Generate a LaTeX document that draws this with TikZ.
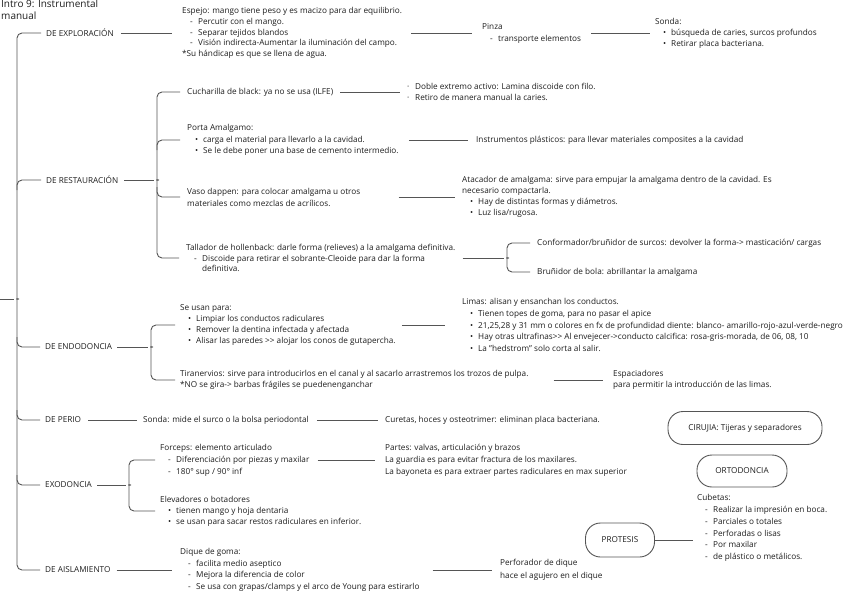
\documentclass[tikz,border=0pt]{standalone}
\usepackage{fontspec}
\setmainfont{Open Sans}
\usetikzlibrary{calc}
\definecolor{tx}{HTML}{1E1E1E}
\definecolor{lc}{HTML}{555555}
\newlength\fs
\setlength\fs{8.2pt}
\newcommand\dl{\hspace*{8pt}\makebox[8pt][l]{-}}
\newcommand\bl{\hspace*{8pt}\makebox[8pt][l]{\textbullet}}
\newcommand\dt{\makebox[8pt][l]{·}}
% brace: #1 vertical x coord, #2 top node, #3 bottom node, #4 point coord, #5 gap, #6 half nub
\newcommand\curly[6]{%
  \draw[conn, rounded corners=5pt] ([xshift=-#5]#2.west) -- (#2.west -| #1) -- ($(#1 |- #4)+(0,-#6)$)
    .. controls ($(#1 |- #4)+(0,-#6/4)$) and ($(#4)+(#6/2,0)$) .. (#4)
    .. controls ($(#4)+(#6/2,0)$) and ($(#1 |- #4)+(0,#6/4)$) .. ($(#1 |- #4)+(0,#6)$)
    -- (#3.west -| #1) -- ([xshift=-#5]#3.west);}
\newcommand\brup[3]{\draw[conn, rounded corners=5pt] ($(#2.west -| #1)+(0,10)$) -- (#2.west -| #1) -- ([xshift=-#3]#2.west);}
\newcommand\brdn[3]{\draw[conn, rounded corners=5pt] ($(#2.west -| #1)+(0,-10)$) -- (#2.west -| #1) -- ([xshift=-#3]#2.west);}
\begin{document}
\begin{tikzpicture}[x=1pt,y=-1pt,
  txt/.style={anchor=west, inner sep=0pt, align=left, text=tx, font=\fontsize{\fs}{#1}\selectfont},
  txt/.default=11.3pt,
  lbl/.style={anchor=west, inner sep=0pt, text=tx, font=\fontsize{\fs}{10pt}\selectfont},
  conn/.style={draw=lc, line width=0.9pt},
  pill/.style={draw=lc, line width=0.9pt, rounded corners=15pt, inner sep=0pt, text=tx, font=\fontsize{\fs}{10pt}\selectfont}]
\fill[white] (0,0) rectangle (848,599);
\useasboundingbox (0,0) rectangle (848,599);

\node[txt=11.5pt, anchor=north west, font=\fontsize{10pt}{11.5pt}\selectfont] (title) at (1,0) {Intro 9: Instrumental\\manual};

\node[lbl] (explo) at (46,33) {DE EXPLORACIÓN};
\node[txt=10.8pt] (espejo) at (182,33) {Espejo: mango tiene peso y es macizo para dar equilibrio.\\\dl Percutir con el mango.\\\dl Separar tejidos blandos\\\dl Visión indirecta-Aumentar la iluminación del campo.\\{}*Su hándicap es que se llena de agua.};
\node[txt=12pt] (pinza) at (482,33) {Pinza\\\dl transporte elementos};
\node[txt=11pt] (sonda) at (655,33) {Sonda:\\\bl búsqueda de caries, surcos profundos\\\bl Retirar placa bacteriana.};

\node[lbl] (resta) at (46,180) {DE RESTAURACIÓN};
\node[txt] (cuch) at (187,92) {Cucharilla de black: ya no se usa (ILFE)};
\node[txt=11.5pt] (doble) at (407,92) {\dt Doble extremo activo: Lamina discoide con filo.\\\dt Retiro de manera manual la caries.};
\node[txt=11.5pt] (porta) at (187,140) {Porta Amalgamo:\\\bl carga el material para llevarlo a la cavidad.\\\bl Se le debe poner una base de cemento intermedio.};
\node[txt] (instr) at (476,140) {Instrumentos plásticos: para llevar materiales composites a la cavidad};
\node[txt=12pt] (vaso) at (187,197) {Vaso dappen: para colocar amalgama u otros\\materiales como mezclas de acrílicos.};
\node[txt=11pt] (atac) at (462,197) {Atacador de amalgama: sirve para empujar la amalgama dentro de la cavidad. Es\\necesario compactarla.\\\bl Hay de distintas formas y diámetros.\\\bl Luz lisa/rugosa.};
\node[txt=10.5pt] (tall) at (186,258) {Tallador de hollenback: darle forma (relieves) a la amalgama definitiva.\\\dl Discoide para retirar el sobrante-Cleoide para dar la forma\\\hspace*{16pt}definitiva.};
\node[txt] (conf) at (537,243) {Conformador/bruñidor de surcos: devolver la forma-> masticación/ cargas};
\node[txt] (brun) at (537,272) {Bruñidor de bola: abrillantar la amalgama};

\node[lbl] (endo) at (45,347) {DE ENDODONCIA};
\node[txt=10.8pt] (seusan) at (180,325) {Se usan para:\\\bl Limpiar los conductos radiculares\\\bl Remover la dentina infectada y afectada\\\bl Alisar las paredes >{}> alojar los conos de gutapercha.};
\node[txt=11.75pt] (limas) at (462,325) {Limas: alisan y ensanchan los conductos.\\\bl Tienen topes de goma, para no pasar el apice\\\bl 21,25,28 y 31 mm o colores en fx de profundidad diente: blanco- amarillo-rojo-azul-verde-negro\\\bl Hay otras ultrafinas>{}> Al envejecer->conducto calcifica: rosa-gris-morada, de 06, 08, 10\\\bl La "hedstrom" solo corta al salir.};
\node[txt=11pt] (tira) at (180,380) {Tiranervios: sirve para introducirlos en el canal y al sacarlo arrastremos los trozos de pulpa.\\{}*NO se gira-> barbas frágiles se puedenenganchar};
\node[txt=11pt] (esp) at (613,380) {Espaciadores\\para permitir la introducción de las limas.};

\node[lbl] (perio) at (45,420) {DE PERIO};
\node[txt] (sondap) at (143,420) {Sonda: mide el surco o la bolsa periodontal};
\node[txt] (cur) at (385,420) {Curetas, hoces y osteotrimer: eliminan placa bacteriana.};

\node[lbl] (exo) at (45,485) {EXODONCIA};
\node[txt=12pt] (forc) at (160,460) {Forceps: elemento articulado\\\dl Diferenciación por piezas y maxilar\\\dl 180° sup / 90° inf};
\node[txt=12pt] (partes) at (385,460) {Partes: valvas, articulación y brazos\\La guardia es para evitar fractura de los maxilares.\\La bayoneta es para extraer partes radiculares en max superior};
\node[txt=11pt] (elev) at (160,511) {Elevadores o botadores\\\bl tienen mango y hoja dentaria\\\bl se usan para sacar restos radiculares en inferior.};

\node[lbl] (aisl) at (45,570) {DE AISLAMIENTO};
\node[txt=11.7pt] (dique) at (180,570) {Dique de goma:\\\dl facilita medio aseptico\\\dl Mejora la diferencia de color\\\dl Se usa con grapas/clamps y el arco de Young para estirarlo};
\node[txt=12.5pt] (perf) at (500,570) {Perforador de dique\\hace el agujero en el dique};

\node[pill, minimum width=154pt, minimum height=33pt] (ciru) at (745,428) {CIRUJIA: Tijeras y separadores};
\node[pill, minimum width=90pt, minimum height=32pt] (orto) at (742,471) {ORTODONCIA};
\node[pill, minimum width=69pt, minimum height=34pt] (prot) at (620,540) {PROTESIS};
\node[txt=11.8pt] (cub) at (697,528) {Cubetas:\\\dl Realizar la impresión en boca.\\\dl Parciales o totales\\\dl Perforadas o lisas\\\dl Por maxilar\\\dl de plástico o metálicos.};

\coordinate (mroot) at (0,299);
\coordinate (mv) at (17,0);  \coordinate (mp) at (14,299);
\coordinate (rv) at (157,0); \coordinate (rp) at (154,180);
\coordinate (ev) at (151,0); \coordinate (ep) at (148,347);
\coordinate (xv) at (129,0); \coordinate (xp) at (126,485);
\coordinate (tv) at (507,0); \coordinate (tp) at (504,258);

\curly{mv}{explo}{aisl}{mp}{5}{4}
\brup{mv}{resta}{5}
\brdn{mv}{endo}{5}
\brdn{mv}{perio}{5}
\brdn{mv}{exo}{5}
\curly{rv}{cuch}{tall}{rp}{7}{4}
\brup{rv}{porta}{7}
\brdn{rv}{vaso}{7}
\curly{ev}{seusan}{tira}{ep}{5}{4}
\curly{xv}{forc}{elev}{xp}{5}{4}
\curly{tv}{conf}{brun}{tp}{7}{4}

\draw[conn] (mroot) -- (mp);
\draw[conn] ([xshift=6]resta.east) -- (rp);
\draw[conn] ([xshift=5]endo.east) -- (ep);
\draw[conn] ([xshift=5]exo.east) -- (xp);
\draw[conn] ([xshift=7]tall.east) -- (tp);

\draw[conn] ([xshift=7]explo.east) -- ([xshift=-10]espejo.west);
\draw[conn] ([xshift=9]espejo.east) -- ([xshift=-10]pinza.west);
\draw[conn] ([xshift=10]pinza.east) -- ([xshift=-5]sonda.west);
\draw[conn] ([xshift=7]cuch.east) -- ([xshift=-7]doble.west);
\draw[conn] ([xshift=10]porta.east) -- ([xshift=-8]instr.west);
\draw[conn] ([xshift=38]vaso.east) -- ([xshift=-7]atac.west);
\draw[conn] ([xshift=6]seusan.east) -- ([xshift=-17]limas.west);
\draw[conn] ([xshift=25]tira.east) -- ([xshift=-10]esp.west);
\draw[conn] ([xshift=7]perio.east) -- ([xshift=-6]sondap.west);
\draw[conn] ([xshift=8]sondap.east) -- ([xshift=-7]cur.west);
\draw[conn] ([xshift=8]forc.east) -- ([xshift=-10]partes.west);
\draw[conn] ([xshift=6]aisl.east) -- ([xshift=-8]dique.west);
\draw[conn] ([xshift=13]dique.east) -- ([xshift=-8]perf.west);
\draw[conn] (prot.east) -- ($(prot.east -| cub.west)+(-4,0)$);
\end{tikzpicture}
\end{document}
